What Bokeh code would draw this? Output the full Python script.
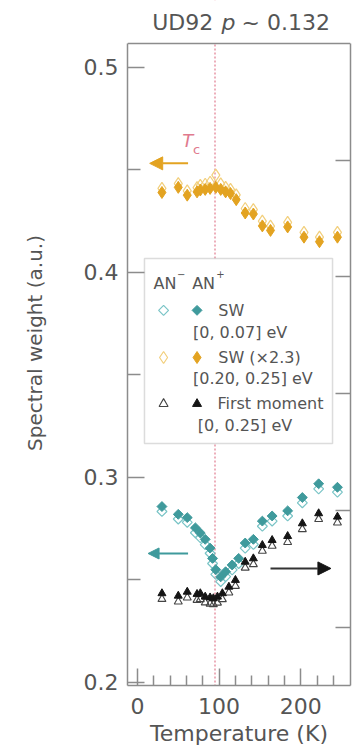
import math
from bokeh.plotting import figure
from bokeh.models import (Range1d, LinearAxis, FixedTicker, Label, Arrow,
                          NormalHead, Span, BoxAnnotation)
from bokeh.embed import file_html
from bokeh.resources import INLINE

# ---- data -------------------------------------------------------------
# Low-energy spectral weight, window [0, 0.07] eV (left axis)
temp_low = [30, 50, 61, 71, 77, 83, 89, 92, 96, 102, 108, 116, 124, 132,
            142, 153, 165, 184, 202, 222, 245]
sw_low_an_plus = [0.2858, 0.2820, 0.2804, 0.2754, 0.2729, 0.2698, 0.2655,
                  0.2605, 0.2550, 0.2515, 0.2540, 0.2573, 0.2605, 0.2680,
                  0.2698, 0.2787, 0.2812, 0.2837, 0.2902, 0.2969, 0.2952]
sw_low_an_minus = [0.2834, 0.2797, 0.2781, 0.2730, 0.2706, 0.2672, 0.2630,
                   0.2580, 0.2527, 0.2492, 0.2516, 0.2549, 0.2580, 0.2655,
                   0.2673, 0.2762, 0.2787, 0.2812, 0.2876, 0.2944, 0.2928]

# High-energy spectral weight (x2.3), window [0.20, 0.25] eV (left axis)
temp_high = [30, 50, 61, 73, 77, 83, 89, 96, 102, 108, 114, 121, 132, 142,
             153, 163, 184, 204, 223, 245]
sw_high_an_plus = [0.4390, 0.4415, 0.4377, 0.4393, 0.4402, 0.4405, 0.4410,
                   0.4415, 0.4405, 0.4393, 0.4385, 0.4355, 0.4290, 0.4285,
                   0.4227, 0.4205, 0.4222, 0.4172, 0.4150, 0.4172]
sw_high_an_minus = [0.4410, 0.4433, 0.4398, 0.4414, 0.4425, 0.4430, 0.4440,
                    0.4475, 0.4432, 0.4415, 0.4405, 0.4378, 0.4312, 0.4306,
                    0.4250, 0.4226, 0.4244, 0.4195, 0.4172, 0.4195]

# First moment, window [0, 0.25] eV (right axis)
temp_fm = [30, 50, 61, 73, 77, 83, 89, 93, 98, 104, 112, 120, 132, 142,
           153, 165, 184, 202, 222, 245]
fm_an_plus = [0.10289, 0.10268, 0.10302, 0.10283, 0.10289, 0.10260, 0.10253,
              0.10246, 0.10260, 0.10289, 0.10345, 0.10403, 0.10559, 0.10588,
              0.10702, 0.10745, 0.10779, 0.10888, 0.10974, 0.10945]
fm_an_minus = [0.10240, 0.10218, 0.10252, 0.10232, 0.10238, 0.10210, 0.10200,
               0.10195, 0.10208, 0.10238, 0.10295, 0.10352, 0.10508, 0.10538,
               0.10652, 0.10695, 0.10728, 0.10838, 0.10924, 0.10895]

tc = 95
x_ticks = [0, 100, 200]
x_minor = [20, 40, 60, 80, 120, 140, 160, 180, 220, 240]
y_ticks = [0.2, 0.3, 0.4, 0.5]
y_minor = [0.25, 0.35, 0.45]
fm_ticks = [0.10, 0.11, 0.12, 0.13, 0.14]

# plotted box limits; the space above y_top holds the heading
x_lo, x_hi = -12.2, 261
y_lo, y_top, y_canvas = 0.1985, 0.5117, 0.53265
fm_lo, fm_top, fm_canvas = 0.095, 0.150, 0.15367

# ---- styling ----------------------------------------------------------
FONT = "DejaVu Sans"
TXT = "#555555"
FRAME = "#8c8c8c"
TEAL = "#3f9a9c"
TEAL_OPEN = "#79c4c6"
GOLD = "#e3a321"
GOLD_OPEN = "#f2cf7c"
BLACK = "#151515"
PINK = "#e07a8e"

p = figure(width=354, height=752, output_backend="svg", toolbar_location=None,
           x_range=Range1d(x_lo, x_hi), y_range=Range1d(y_lo, y_canvas),
           min_border_left=127, min_border_right=4, min_border_top=0,
           min_border_bottom=67)
p.background_fill_color = "white"
p.border_fill_color = "white"
p.outline_line_color = None
p.grid.visible = False

# secondary range for the first moment
p.extra_y_ranges = {"fm": Range1d(fm_lo, fm_canvas)}
right = LinearAxis(y_range_name="fm")
p.add_layout(right, "right")


def style_axis(ax):
    ax.axis_line_color = FRAME
    ax.axis_line_width = 1.5
    ax.major_tick_line_color = FRAME
    ax.minor_tick_line_color = FRAME
    ax.major_tick_line_width = 1.5
    ax.minor_tick_line_width = 1.5
    ax.major_tick_out = 0
    ax.minor_tick_out = 0
    ax.major_label_text_font = FONT
    ax.major_label_text_color = TXT
    ax.major_label_text_font_size = "22px"
    ax.axis_label_text_font = FONT
    ax.axis_label_text_color = TXT
    ax.axis_label_text_font_style = "normal"


xa = p.xaxis[0]
style_axis(xa)
xa.ticker = FixedTicker(ticks=x_ticks, minor_ticks=x_minor)
xa.major_tick_in = 17
xa.minor_tick_in = 10
xa.major_label_standoff = 12
xa.axis_label = "Temperature (K)"
xa.axis_label_text_font_size = "22px"
xa.axis_label_standoff = 4

ya = p.yaxis[0]
style_axis(ya)
ya.bounds = (y_lo, y_top)
ya.ticker = FixedTicker(ticks=y_ticks, minor_ticks=y_minor)
ya.major_label_overrides = {t: f"{t:.1f}" for t in y_ticks}
ya.major_tick_in = 17
ya.minor_tick_in = 13
ya.major_label_standoff = 9
ya.axis_label = "Spectral weight (a.u.)"
ya.axis_label_text_font_size = "20px"
ya.axis_label_standoff = 34

style_axis(right)
right.bounds = (fm_lo, fm_top)
right.ticker = FixedTicker(ticks=fm_ticks, minor_ticks=[])
right.major_label_overrides = {t: "" for t in fm_ticks}
right.major_label_standoff = 0
right.major_tick_in = 15

# Tc marker line (behind the legend box)
p.add_layout(Span(location=tc, dimension="height", line_color=PINK,
                  line_dash="2 2", line_width=1.2, level="underlay"))

# legend box
p.add_layout(BoxAnnotation(left=8.6, right=239, top=0.4068, bottom=0.3166,
                           fill_color="white", fill_alpha=1.0,
                           line_color=FRAME, line_width=1.5,
                           level="underlay"))
# heading strip above the plotted box
p.add_layout(BoxAnnotation(bottom=y_top, fill_color="white", fill_alpha=1.0,
                           line_color=None, level="underlay"))
# top edge of the box
p.add_layout(Span(location=y_top, dimension="width", line_color=FRAME,
                  line_width=1.5))

# ---- data marks -------------------------------------------------------
p.scatter(temp_high, sw_high_an_minus, marker="diamond", size=12,
          fill_color=None, line_color=GOLD_OPEN, line_width=1.2)
p.scatter(temp_high, sw_high_an_plus, marker="diamond", size=12,
          fill_color=GOLD, line_color=GOLD, line_width=1)

p.scatter(temp_low, sw_low_an_minus, marker="square", angle=math.pi / 4,
          size=7, fill_color=None, line_color=TEAL_OPEN, line_width=1.2)
p.scatter(temp_low, sw_low_an_plus, marker="square", angle=math.pi / 4,
          size=7, fill_color=TEAL, line_color=TEAL, line_width=1)

p.scatter(temp_fm, fm_an_minus, marker="triangle", size=8, y_range_name="fm",
          fill_color=None, line_color="#444444", line_width=1.1)
p.scatter(temp_fm, fm_an_plus, marker="triangle", size=8, y_range_name="fm",
          fill_color=BLACK, line_color=BLACK, line_width=1)

# ---- axis-pointing arrows --------------------------------------------
p.add_layout(Arrow(end=NormalHead(size=13, fill_color=GOLD, line_color=GOLD),
                   x_start=62, y_start=0.4532, x_end=15, y_end=0.4532,
                   line_color=GOLD, line_width=2))
p.add_layout(Arrow(end=NormalHead(size=11, fill_color=TEAL, line_color=TEAL),
                   x_start=62, y_start=0.2629, x_end=13, y_end=0.2629,
                   line_color=TEAL, line_width=2))
p.add_layout(Arrow(end=NormalHead(size=13, fill_color=BLACK, line_color=BLACK),
                   x_start=163, y_start=0.2556, x_end=237, y_end=0.2556,
                   line_color="#333333", line_width=2))

# Tc label
p.add_layout(Label(x=55, y=0.4644, text="T", text_font=FONT,
                   text_font_style="italic", text_font_size="18px",
                   text_color=PINK, text_baseline="middle"))
p.add_layout(Label(x=68, y=0.4600, text="c", text_font=FONT,
                   text_font_size="13px", text_color=PINK,
                   text_baseline="middle"))

# ---- legend -----------------------------------------------------------
lx_open, lx_fill = 32, 73
row_teal, row_gold, row_tri = 0.3815, 0.3585, 0.3359
p.scatter([lx_open], [row_teal], marker="square", angle=math.pi / 4, size=7,
          fill_color=None, line_color=TEAL_OPEN, line_width=1.2)
p.scatter([lx_fill], [row_teal], marker="square", angle=math.pi / 4, size=7,
          fill_color=TEAL, line_color=TEAL)
p.scatter([lx_open], [row_gold], marker="diamond", size=12,
          fill_color=None, line_color=GOLD_OPEN, line_width=1.2)
p.scatter([lx_fill], [row_gold], marker="diamond", size=12,
          fill_color=GOLD, line_color=GOLD)
p.scatter([lx_open], [row_tri], marker="triangle", size=9,
          fill_color=None, line_color="#444444", line_width=1.1)
p.scatter([lx_fill], [row_tri], marker="triangle", size=9,
          fill_color=BLACK, line_color=BLACK)


def legend_text(x, y, text, size="16px"):
    p.add_layout(Label(x=x, y=y, text=text, text_font=FONT,
                       text_font_size=size, text_color=TXT,
                       text_baseline="middle"))


legend_text(19.6, 0.3946, "AN")
legend_text(48.5, 0.3990, "\u2212", "10px")
legend_text(67, 0.3946, "AN")
legend_text(96.5, 0.3990, "+", "10px")
legend_text(99, row_teal, "SW")
legend_text(68, 0.3709, "[0, 0.07] eV")
legend_text(99, row_gold, "SW (\u00d72.3)")
legend_text(68, 0.3481, "[0.20, 0.25] eV")
legend_text(98, row_tri, "First moment")
legend_text(74, 0.3253, "[0, 0.25] eV")

# ---- heading (sample and doping) -------------------------------------
title_y = 0.5221
for x, txt, style in [(18, "UD92", "normal"), (103, "p", "italic"),
                      (127.5, "~ 0.132", "normal")]:
    p.add_layout(Label(x=x, y=title_y, text=txt, text_font=FONT,
                       text_font_style=style, text_font_size="22px",
                       text_color=TXT, text_baseline="middle"))

open("out.html", "w").write(file_html(p, INLINE))
